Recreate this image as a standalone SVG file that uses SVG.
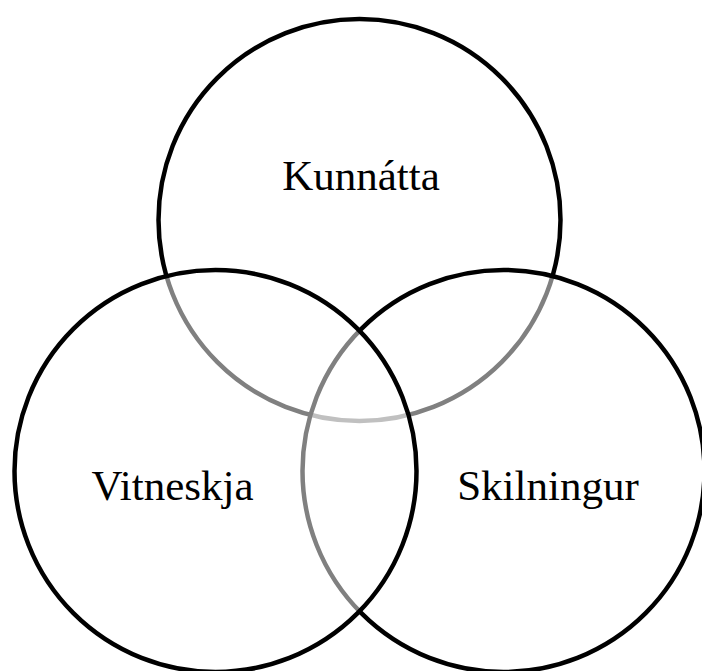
<svg xmlns="http://www.w3.org/2000/svg" width="702" height="671" viewBox="0 0 702 671">
<style>
.c{fill:#fff;fill-opacity:0.5;stroke:#000;stroke-width:4.5}
.t{font-family:"Liberation Serif","Times New Roman",serif;font-size:43px;fill:#000;text-anchor:middle}
</style>
<rect width="702" height="671" fill="#fff"/>
<g id="kunnatta"><circle class="c" cx="359.5" cy="220" r="201"/></g>
<g id="skilningur"><circle class="c" cx="503.5" cy="471" r="201"/></g>
<g id="vitneskja"><circle class="c" cx="215.5" cy="471" r="201"/></g>
<g id="labels">
<text class="t" x="361" y="190">Kunnátta</text>
<text class="t" x="172.5" y="500">Vitneskja</text>
<text class="t" x="548" y="500">Skilningur</text>
</g>
</svg>
